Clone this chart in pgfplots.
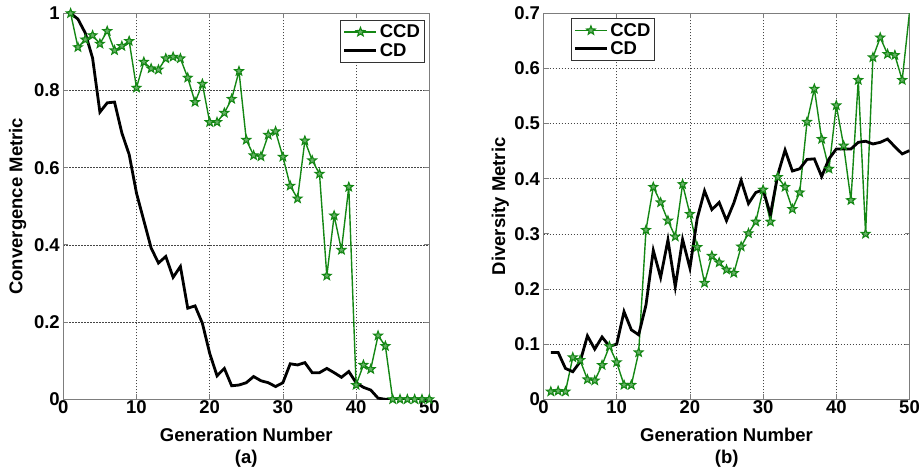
\documentclass[border=0pt]{standalone}
\usepackage{fontspec}
\setmainfont{Liberation Sans}
\usepackage{pgfplots}
\pgfplotsset{compat=1.18}
\definecolor{ccdgreen}{RGB}{20,135,20}
\definecolor{boxgray}{RGB}{125,125,125}
\definecolor{gridgray}{RGB}{70,70,70}
\newcommand{\chartfont}{\fontsize{18.5}{21}\selectfont\bfseries}
\pgfdeclareplotmark{pentagram}{%
  \pgfpathmoveto{\pgfpointpolar{90}{\pgfplotmarksize}}%
  \pgfpathlineto{\pgfpointpolar{126}{0.42\pgfplotmarksize}}%
  \pgfpathlineto{\pgfpointpolar{162}{\pgfplotmarksize}}%
  \pgfpathlineto{\pgfpointpolar{198}{0.42\pgfplotmarksize}}%
  \pgfpathlineto{\pgfpointpolar{234}{\pgfplotmarksize}}%
  \pgfpathlineto{\pgfpointpolar{270}{0.42\pgfplotmarksize}}%
  \pgfpathlineto{\pgfpointpolar{306}{\pgfplotmarksize}}%
  \pgfpathlineto{\pgfpointpolar{342}{0.42\pgfplotmarksize}}%
  \pgfpathlineto{\pgfpointpolar{18}{\pgfplotmarksize}}%
  \pgfpathlineto{\pgfpointpolar{54}{0.42\pgfplotmarksize}}%
  \pgfpathclose
  \pgfusepathqfillstroke}
\pgfplotsset{
  myax/.style={
    width=366pt, height=386pt, scale only axis,
    xmin=0, xmax=50, xtick={0,10,...,50},
    grid=major,
    major grid style={gridgray, line width=0.7pt, dash pattern=on 1.3pt off 1.7pt},
    axis line style={boxgray, line width=1.1pt},
    tick style={boxgray, line width=0.8pt},
    tick align=inside, major tick length=5pt,
    /pgf/number format/assume math mode=true,
    ticklabel style={font=\chartfont},
    xticklabel style={yshift=2pt},
    label style={font=\chartfont},
    xlabel={Generation Number},
    xlabel style={at={(axis description cs:0.5,-0.092)}, anchor=center},
    legend cell align=left,
    legend style={font=\chartfont, draw=black!80, line width=0.9pt,
      inner sep=2.5pt, row sep=0pt},
    legend image code/.code={%
      \draw[mark repeat=2, mark phase=2, #1] plot coordinates {(0pt,0pt) (16pt,0pt) (32pt,0pt)};},
  },
  ccd/.style={ccdgreen, line width=1.4pt, mark=pentagram, mark size=4.6pt,
    mark options={solid, fill=ccdgreen!65!white, draw=ccdgreen, line width=1.1pt}},
  cd/.style={black, line width=2.8pt, no marks},
}
\pgfplotstableread{
x y
1 1.0
2 0.912
3 0.932
4 0.943
5 0.921
6 0.954
7 0.904
8 0.915
9 0.928
10 0.807
11 0.874
12 0.857
13 0.854
14 0.883
15 0.887
16 0.883
17 0.833
18 0.770
19 0.817
20 0.718
21 0.718
22 0.742
23 0.778
24 0.850
25 0.672
26 0.632
27 0.629
28 0.685
29 0.694
30 0.628
31 0.553
32 0.520
33 0.670
34 0.619
35 0.584
36 0.320
37 0.476
38 0.387
39 0.550
40 0.037
41 0.089
42 0.078
43 0.165
44 0.138
45 0
46 0
47 0
48 0
49 0
50 0
}\ccdA
\pgfplotstableread{
x y
1 1.0
2 0.985
3 0.949
4 0.884
5 0.744
6 0.768
7 0.770
8 0.690
9 0.634
10 0.534
11 0.463
12 0.392
13 0.353
14 0.370
15 0.316
16 0.344
17 0.236
18 0.242
19 0.197
20 0.119
21 0.061
22 0.080
23 0.035
24 0.037
25 0.043
26 0.059
27 0.048
28 0.043
29 0.033
30 0.043
31 0.092
32 0.089
33 0.095
34 0.069
35 0.069
36 0.080
37 0.069
38 0.057
39 0.072
40 0.043
41 0.031
42 0.024
43 0.003
44 0
45 0
46 0
47 0
48 0
49 0
50 0
}\cdA
\pgfplotstableread{
x y
1 0.014
2 0.015
3 0.014
4 0.076
5 0.071
6 0.036
7 0.034
8 0.062
9 0.096
10 0.067
11 0.026
12 0.026
13 0.085
14 0.307
15 0.385
16 0.357
17 0.324
18 0.295
19 0.390
20 0.336
21 0.276
22 0.211
23 0.260
24 0.248
25 0.235
26 0.229
27 0.277
28 0.301
29 0.322
30 0.380
31 0.322
32 0.403
33 0.385
34 0.345
35 0.375
36 0.503
37 0.563
38 0.472
39 0.418
40 0.533
41 0.460
42 0.361
43 0.579
44 0.300
45 0.620
46 0.656
47 0.626
48 0.624
49 0.579
50 0.702
}\ccdB
\pgfplotstableread{
x y
1 0.085
2 0.085
3 0.056
4 0.050
5 0.068
6 0.115
7 0.091
8 0.113
9 0.096
10 0.100
11 0.159
12 0.126
13 0.117
14 0.171
15 0.270
16 0.221
17 0.289
18 0.204
19 0.290
20 0.238
21 0.328
22 0.378
23 0.344
24 0.357
25 0.324
26 0.356
27 0.397
28 0.355
29 0.375
30 0.380
31 0.335
32 0.407
33 0.452
34 0.414
35 0.418
36 0.435
37 0.436
38 0.404
39 0.436
40 0.454
41 0.454
42 0.454
43 0.466
44 0.468
45 0.463
46 0.466
47 0.472
48 0.458
49 0.445
50 0.451
}\cdB
\begin{document}
\begin{tikzpicture}[font=\chartfont]
\path[use as bounding box] (0,0) rectangle (923pt,473pt);
\begin{axis}[myax, at={(63.3pt,73.7pt)}, anchor=south west,
  ymin=0, ymax=1, ytick={0,0.2,...,1},
  ylabel={Convergence Metric},
  ylabel style={at={(axis description cs:-0.125,0.5)}, anchor=center},
  legend style={at={(axis description cs:0.988,0.983)}, anchor=north east}]
\addplot[ccd] table[x=x,y=y] {\ccdA};
\addlegendentry{CCD}
\addplot[cd] table[x=x,y=y] {\cdA};
\addlegendentry{CD}
\end{axis}
\begin{axis}[myax, at={(543.5pt,73.7pt)}, anchor=south west,
  ymin=0, ymax=0.7, ytick={0,0.1,...,0.7},
  yticklabels={0,0.1,0.2,0.3,0.4,0.5,0.6,0.7},
  ylabel={Diversity Metric},
  ylabel style={at={(axis description cs:-0.118,0.5)}, anchor=center},
  legend style={at={(axis description cs:0.074,0.987)}, anchor=north west}]
\addplot[ccd] table[x=x,y=y] {\ccdB};
\addlegendentry{CCD}
\addplot[cd] table[x=x,y=y] {\cdB};
\addlegendentry{CD}
\end{axis}
\node[font=\chartfont] at (246.2pt,14.5pt) {(a)};
\node[font=\chartfont] at (726.7pt,14.5pt) {(b)};
\end{tikzpicture}
\end{document}
